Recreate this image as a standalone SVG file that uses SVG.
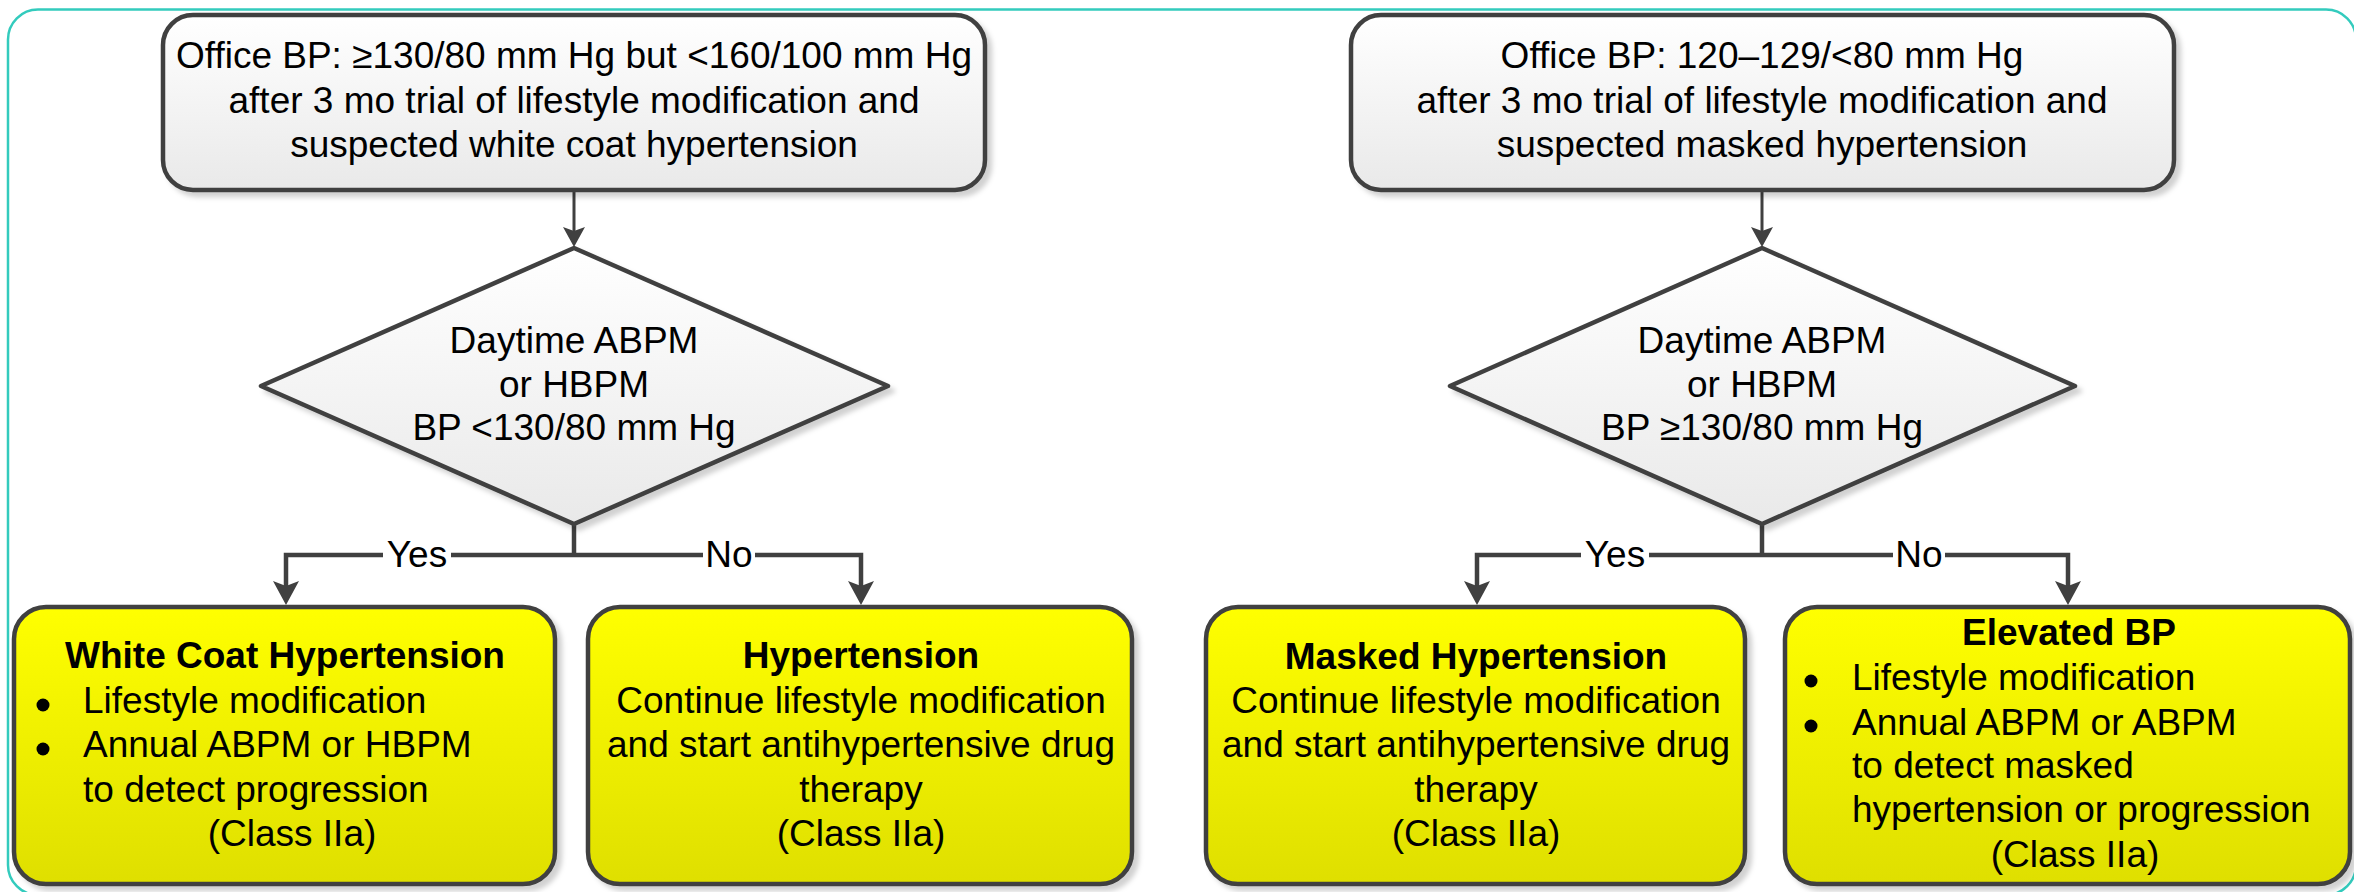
<svg xmlns="http://www.w3.org/2000/svg" width="2354" height="892" viewBox="0 0 2354 892">
<defs>
<linearGradient id="gGray" x1="0" y1="0" x2="0" y2="1"><stop offset="0" stop-color="#ffffff"/><stop offset="1" stop-color="#e9e9e9"/></linearGradient>
<linearGradient id="gYel" x1="0" y1="0" x2="0" y2="1"><stop offset="0" stop-color="#ffff00"/><stop offset="1" stop-color="#dfdf00"/></linearGradient>
<filter id="sh" x="-5%" y="-5%" width="115%" height="115%"><feDropShadow dx="5" dy="5" stdDeviation="2.5" flood-color="#000" flood-opacity="0.18"/></filter>
<marker id="arS" markerUnits="userSpaceOnUse" viewBox="0 0 20 22" refX="10" refY="11" markerWidth="20" markerHeight="22" orient="auto"><path d="M0,0 L20,11 L0,22 L4,11 Z" fill="#404040"/></marker>
<marker id="arL" markerUnits="userSpaceOnUse" viewBox="0 0 24 26" refX="14" refY="13" markerWidth="24" markerHeight="26" orient="auto"><path d="M0,0 L24,13 L0,26 L5,13 Z" fill="#404040"/></marker>
</defs>
<style>
.t{font-family:"Liberation Sans",Arial,sans-serif;font-size:37px;fill:#000}
.c{text-anchor:middle}
.b{font-weight:bold}
.box{stroke:#404040;stroke-width:4.5}
.gray{fill:url(#gGray)}
.yel{fill:url(#gYel)}
.ln{fill:none;stroke:#404040;stroke-width:4.5}
.lnT{fill:none;stroke:#404040;stroke-width:3}
.lbl{fill:#fff}
.dot{fill:#000}
</style>
<rect x="8" y="9.5" width="2348" height="885.5" rx="30" fill="none" stroke="#33cbbd" stroke-width="2.5"/>

<g id="connectors">
<path class="lnT" d="M574,190 V237" marker-end="url(#arS)"/>
<path class="ln" d="M574,524 V555"/>
<path class="ln" d="M574,555 H286 V595" marker-end="url(#arL)"/>
<path class="ln" d="M574,555 H861 V595" marker-end="url(#arL)"/>
<path class="lnT" d="M1762,190 V237" marker-end="url(#arS)"/>
<path class="ln" d="M1762,524 V555"/>
<path class="ln" d="M1762,555 H1477 V595" marker-end="url(#arL)"/>
<path class="ln" d="M1762,555 H2068 V595" marker-end="url(#arL)"/>
<rect class="lbl" x="383" y="536" width="68" height="38"/>
<text class="t c" x="417" y="567">Yes</text>
<rect class="lbl" x="703" y="536" width="52" height="38"/>
<text class="t c" x="729" y="567">No</text>
<rect class="lbl" x="1581" y="536" width="68" height="38"/>
<text class="t c" x="1615" y="567">Yes</text>
<rect class="lbl" x="1893" y="536" width="52" height="38"/>
<text class="t c" x="1919" y="567">No</text>
</g>

<g id="start-left">
<rect class="box gray" filter="url(#sh)" x="163" y="15" width="822" height="175" rx="30"/>
<text class="t c" x="574" y="68">Office BP: ≥130/80 mm Hg but &lt;160/100 mm Hg</text>
<text class="t c" x="574" y="113">after 3 mo trial of lifestyle modification and</text>
<text class="t c" x="574" y="157">suspected white coat hypertension</text>
</g>

<g id="start-right">
<rect class="box gray" filter="url(#sh)" x="1351" y="15" width="823" height="175" rx="30"/>
<text class="t c" x="1762" y="68">Office BP: 120–129/&lt;80 mm Hg</text>
<text class="t c" x="1762" y="113">after 3 mo trial of lifestyle modification and</text>
<text class="t c" x="1762" y="157">suspected masked hypertension</text>
</g>

<g id="decision-left">
<path class="box gray" filter="url(#sh)" d="M574,248 L888,386 L574,524 L261,386 Z" stroke-linejoin="round"/>
<text class="t c" x="574" y="353">Daytime ABPM</text>
<text class="t c" x="574" y="397">or HBPM</text>
<text class="t c" x="574" y="440">BP &lt;130/80 mm Hg</text>
</g>

<g id="decision-right">
<path class="box gray" filter="url(#sh)" d="M1762,248 L2075,386 L1762,524 L1450,386 Z" stroke-linejoin="round"/>
<text class="t c" x="1762" y="353">Daytime ABPM</text>
<text class="t c" x="1762" y="397">or HBPM</text>
<text class="t c" x="1762" y="440">BP ≥130/80 mm Hg</text>
</g>

<g id="white-coat">
<rect class="box yel" filter="url(#sh)" x="14" y="607" width="541" height="277" rx="32"/>
<text class="t c b" x="285" y="668">White Coat Hypertension</text>
<circle class="dot" cx="43" cy="705" r="6.5"/>
<text class="t" x="83" y="713">Lifestyle modification</text>
<circle class="dot" cx="43" cy="749" r="6.5"/>
<text class="t" x="83" y="757">Annual ABPM or HBPM</text>
<text class="t" x="83" y="802">to detect progression</text>
<text class="t c" x="292" y="846">(Class IIa)</text>
</g>

<g id="hypertension">
<rect class="box yel" filter="url(#sh)" x="588" y="607" width="544" height="277" rx="32"/>
<text class="t c b" x="861" y="668">Hypertension</text>
<text class="t c" x="861" y="713">Continue lifestyle modification</text>
<text class="t c" x="861" y="757">and start antihypertensive drug</text>
<text class="t c" x="861" y="802">therapy</text>
<text class="t c" x="861" y="846">(Class IIa)</text>
</g>

<g id="masked">
<rect class="box yel" filter="url(#sh)" x="1206" y="607" width="539" height="277" rx="32"/>
<text class="t c b" x="1476" y="669">Masked Hypertension</text>
<text class="t c" x="1476" y="713">Continue lifestyle modification</text>
<text class="t c" x="1476" y="757">and start antihypertensive drug</text>
<text class="t c" x="1476" y="802">therapy</text>
<text class="t c" x="1476" y="846">(Class IIa)</text>
</g>

<g id="elevated">
<rect class="box yel" filter="url(#sh)" x="1785" y="607" width="565" height="277" rx="32"/>
<text class="t c b" x="2069" y="645">Elevated BP</text>
<circle class="dot" cx="1811" cy="681" r="6.5"/>
<text class="t" x="1852" y="690">Lifestyle modification</text>
<circle class="dot" cx="1811" cy="726" r="6.5"/>
<text class="t" x="1852" y="735">Annual ABPM or ABPM</text>
<text class="t" x="1852" y="778">to detect masked</text>
<text class="t" x="1852" y="822">hypertension or progression</text>
<text class="t c" x="2075" y="867">(Class IIa)</text>
</g>
</svg>
